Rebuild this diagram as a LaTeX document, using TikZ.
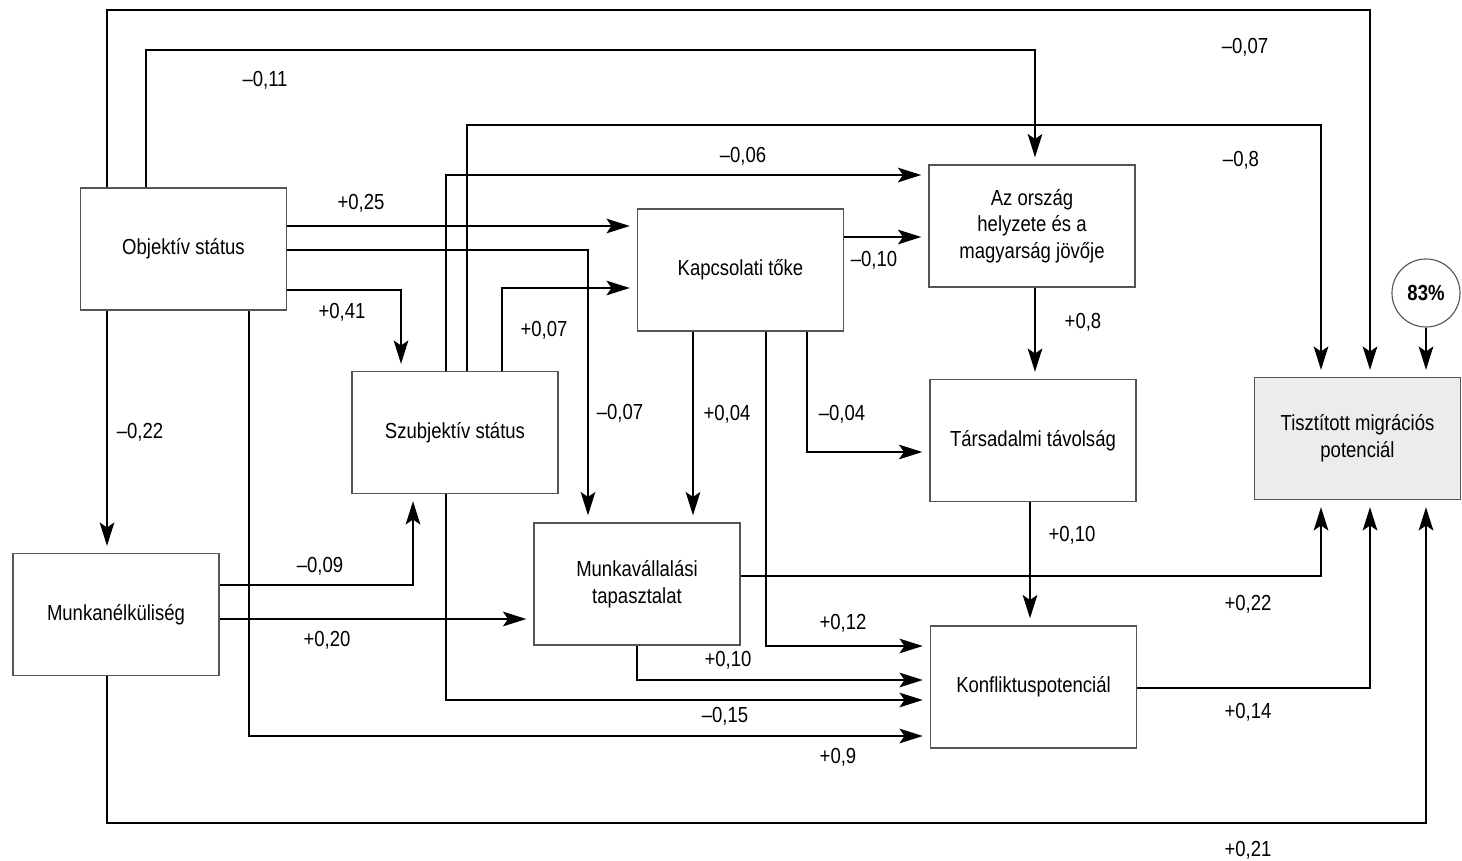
\documentclass[tikz,border=0pt]{standalone}
\usepackage{fontspec}
\setmainfont{Liberation Sans}[FakeStretch=0.85]
\usetikzlibrary{arrows.meta}
\definecolor{boxline}{RGB}{85,85,85}
\definecolor{targetbg}{RGB}{236,236,236}

\begin{document}
\begin{tikzpicture}[x=0.025cm, y=-0.025cm,
  box/.style={draw=boxline, line width=0.8pt, fill=white, minimum width=5.15cm, minimum height=3.05cm,
    inner sep=2pt, align=center, font=\fontsize{15.5}{19}\selectfont},
  lbl/.style={inner sep=1pt, font=\fontsize{15.5}{18}\selectfont},
  arr/.style={line width=2.1pt, -{Stealth[length=0.58cm, width=0.36cm, inset=0.12cm]}, shorten >=5pt}]
  \path[use as bounding box, fill=white] (0,0) rectangle (1462,861);

  \node[box] (obj) at (183.5,249) {Objektív státus};
  \node[box] (munk) at (116,614.5) {Munkanélküliség};
  \node[box] (szub) at (455,432.5) {Szubjektív státus};
  \node[box] (kap) at (740.5,270) {Kapcsolati tőke};
  \node[box] (orsz) at (1032,226) {Az ország\\helyzete és a\\magyarság jövője};
  \node[box] (tars) at (1033,440.5) {Társadalmi távolság};
  \node[box] (mv) at (637,584) {Munkavállalási\\tapasztalat};
  \node[box] (konf) at (1033.5,687) {Konfliktuspotenciál};
  \node[box, fill=targetbg] (tisz) at (1357.5,438.5) {Tisztított migrációs\\potenciál};
  \node[circle, draw=boxline, line width=0.8pt, minimum size=1.7cm, inner sep=0pt,
    font=\bfseries\fontsize{15.5}{18}\selectfont] (pct) at (1426,293) {83\%};

  \draw[arr] (obj.north -| 107,0) -- (107,10) -| (tisz.north -| 1370,0);
  \draw[arr] (obj.north -| 146,0) -- (146,50) -| (orsz.north -| 1035,0);
  \draw[arr] (obj.east |- 0,226) -- (kap.west |- 0,226);
  \draw[arr] (obj.east |- 0,250) -| (mv.north -| 588,0);
  \draw[arr] (obj.east |- 0,290) -| (szub.north -| 401,0);
  \draw[arr] (obj.south -| 107,0) -- (munk.north -| 107,0);
  \draw[arr] (obj.south -| 249,0) |- (konf.west |- 0,736);

  \draw[arr] (szub.north -| 446,0) |- (orsz.west |- 0,175);
  \draw[arr] (szub.north -| 467,0) -- (467,125) -| (tisz.north -| 1321,0);
  \draw[arr] (szub.north -| 502,0) |- (kap.west |- 0,288);
  \draw[arr] (szub.south -| 446,0) |- (konf.west |- 0,700);

  \draw[arr] (munk.east |- 0,585) -| (szub.south -| 413,0);
  \draw[arr] (munk.east |- 0,619) -- (mv.west |- 0,619);
  \draw[arr] (munk.south -| 107,0) -- (107,823) -| (tisz.south -| 1426,0);

  \draw[arr] (kap.east |- 0,237) -- (orsz.west |- 0,237);
  \draw[arr] (kap.south -| 693,0) -- (mv.north -| 693,0);
  \draw[arr] (kap.south -| 766,0) |- (konf.west |- 0,646);
  \draw[arr] (kap.south -| 807,0) |- (tars.west |- 0,452);

  \draw[arr] (orsz.south -| 1035,0) -- (tars.north -| 1035,0);
  \draw[arr] (tars.south -| 1030,0) -- (konf.north -| 1030,0);

  \draw[arr] (mv.east |- 0,576) -| (tisz.south -| 1321,0);
  \draw[arr] (mv.south -| 637,0) |- (konf.west |- 0,680);

  \draw[arr] (konf.east |- 0,688) -| (tisz.south -| 1370,0);
  \draw[arr] (pct) -- (tisz.north -| pct);

  \node[lbl] (w1) at (1245,47) {–0,07};
  \node[lbl] (w2) at (265,80) {–0,11};
  \node[lbl] (w3) at (1241,160) {–0,8};
  \node[lbl] (w4) at (743,156) {–0,06};
  \node[lbl] (w5) at (361,203) {+0,25};
  \node[lbl] (w6) at (874,260) {–0,10};
  \node[lbl] (w7) at (342,312) {+0,41};
  \node[lbl] (w8) at (544,330) {+0,07};
  \node[lbl] (w9) at (140,432) {–0,22};
  \node[lbl] (w10) at (620,413) {–0,07};
  \node[lbl] (w11) at (727,414) {+0,04};
  \node[lbl] (w12) at (842,414) {–0,04};
  \node[lbl] (w13) at (1083,322) {+0,8};
  \node[lbl] (w14) at (320,566) {–0,09};
  \node[lbl] (w15) at (327,640) {+0,20};
  \node[lbl] (w16) at (843,623) {+0,12};
  \node[lbl] (w17) at (728,660) {+0,10};
  \node[lbl] (w18) at (725,716) {–0,15};
  \node[lbl] (w19) at (838,757) {+0,9};
  \node[lbl] (w20) at (1072,535) {+0,10};
  \node[lbl] (w21) at (1248,604) {+0,22};
  \node[lbl] (w22) at (1248,712) {+0,14};
  \node[lbl] (w23) at (1248,850) {+0,21};
\end{tikzpicture}
\end{document}
